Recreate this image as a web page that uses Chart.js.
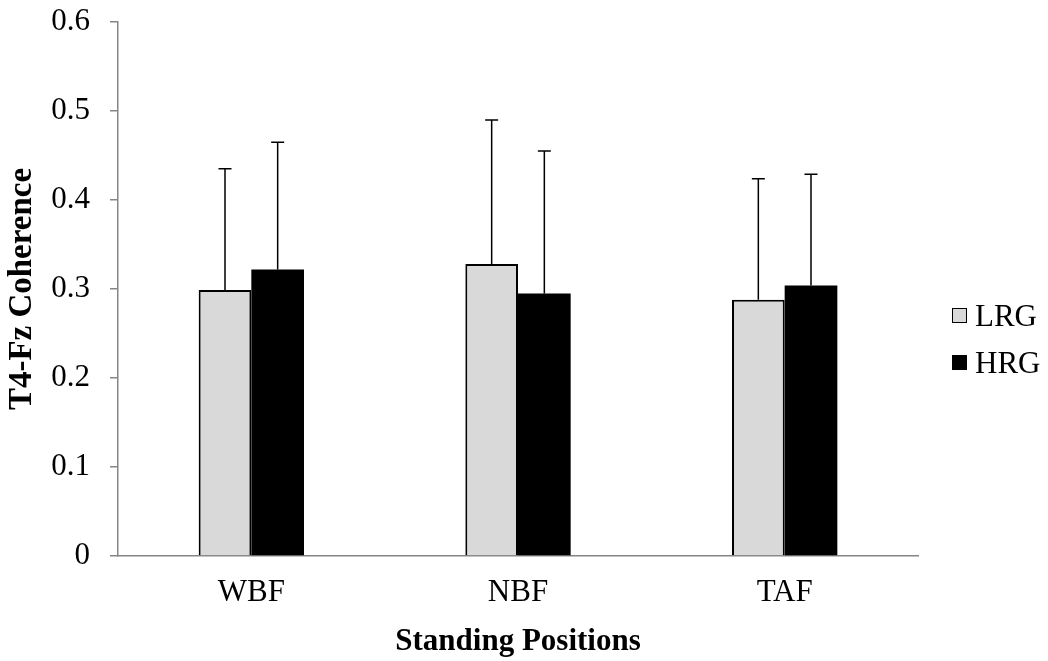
<!DOCTYPE html>
<html>
<head>
<meta charset="utf-8">
<script src="https://cdn.jsdelivr.net/npm/chart.js@4.4.0/dist/chart.umd.min.js"></script>
<style>
  html, body { margin: 0; padding: 0; background: #fff; }
  #wrap { position: relative; width: 1048px; height: 661px; }
  #legend { position: absolute; left: 952px; top: 292px; font-family: "Liberation Serif", "Times New Roman", serif; font-size: 31px; color: #000; }
  #legend .row { display: flex; align-items: center; height: 47px; }
  #legend .box { width: 15px; height: 15px; margin-right: 8px; box-sizing: border-box; }
</style>
</head>
<body>
<div id="wrap">
  <canvas id="chart" width="1048" height="661"></canvas>
  <div id="legend"></div>
</div>
<script>
// данные с рисунка
const categories = ["WBF", "NBF", "TAF"];
const seriesNames = ["LRG", "HRG"];
const lrgValues = [0.299, 0.328, 0.288];
const hrgValues = [0.322, 0.295, 0.304];
const lrgErrors = [0.136, 0.162, 0.136];
const hrgErrors = [0.143, 0.160, 0.125];
const yTicks = [0, 0.1, 0.2, 0.3, 0.4, 0.5, 0.6];

const serif = "'Liberation Serif', 'Times New Roman', serif";
const axisGray = "#868686";

// планки погрешностей (только вверх)
const errorBars = {
  id: "errorBars",
  afterDatasetsDraw(chart) {
    const ctx = chart.ctx;
    const yScale = chart.scales.y;
    ctx.save();
    ctx.strokeStyle = "#000";
    ctx.lineWidth = 1.5;
    chart.data.datasets.forEach(function (ds, i) {
      const meta = chart.getDatasetMeta(i);
      meta.data.forEach(function (bar, j) {
        const top = yScale.getPixelForValue(ds.data[j] + ds.errors[j]);
        ctx.beginPath();
        ctx.moveTo(bar.x, bar.y);
        ctx.lineTo(bar.x, top);
        ctx.moveTo(bar.x - 6.5, top);
        ctx.lineTo(bar.x + 6.5, top);
        ctx.stroke();
      });
    });
    ctx.restore();
  },
};

const chart = new Chart(document.getElementById("chart").getContext("2d"), {
  type: "bar",
  data: {
    labels: categories,
    datasets: [
      {
        label: seriesNames[0],
        data: lrgValues,
        errors: lrgErrors,
        backgroundColor: "#d9d9d9",
        borderColor: "#000",
        borderWidth: { top: 2, left: 2, right: 2, bottom: 0 },
        borderSkipped: false,
      },
      {
        label: seriesNames[1],
        data: hrgValues,
        errors: hrgErrors,
        backgroundColor: "#000",
        borderColor: "#000",
        borderWidth: 0,
      },
    ],
  },
  options: {
    responsive: false,
    animation: false,
    layout: { padding: { top: 22, right: 130, bottom: 0, left: 3 } },
    datasets: { bar: { categoryPercentage: 0.395, barPercentage: 1.0 } },
    plugins: {
      legend: { display: false },
      tooltip: { enabled: false },
    },
    scales: {
      x: {
        afterFit: function (axis) {
          axis.height = 105;
          axis.paddingLeft = 0;
          axis.paddingRight = 0;
        },
        grid: { display: false, drawTicks: false },
        border: { display: true, color: axisGray, width: 1.5 },
        ticks: { color: "#000", padding: 18, font: { family: serif, size: 31 } },
        title: {
          display: true,
          text: "Standing Positions",
          color: "#000",
          padding: { top: 13, bottom: 0 },
          font: { family: serif, size: 31, weight: "bold" },
        },
      },
      y: {
        min: 0,
        max: 0.6,
        afterBuildTicks: function (axis) {
          axis.ticks = yTicks.map(function (v) { return { value: v }; });
        },
        afterFit: function (axis) {
          axis.width = 115;
          axis.paddingTop = 0;
          axis.paddingBottom = 0;
        },
        grid: { drawOnChartArea: false, drawTicks: true, tickLength: 8, color: axisGray, lineWidth: 1.5 },
        border: { display: true, color: axisGray, width: 1.5 },
        ticks: { color: "#000", padding: 20, font: { family: serif, size: 31 } },
        title: {
          display: true,
          text: "T4-Fz Coherence",
          color: "#000",
          padding: { top: 0, bottom: 8 },
          font: { family: serif, size: 33, weight: "bold" },
        },
      },
    },
  },
  plugins: [errorBars],
});

// легенда справа
const legend = document.getElementById("legend");
chart.data.datasets.forEach(function (ds) {
  const row = document.createElement("div");
  row.className = "row";
  const box = document.createElement("span");
  box.className = "box";
  box.style.background = ds.backgroundColor;
  box.style.border = "1px solid #000";
  const label = document.createElement("span");
  label.textContent = ds.label;
  row.appendChild(box);
  row.appendChild(label);
  legend.appendChild(row);
});
</script>
</body>
</html>
